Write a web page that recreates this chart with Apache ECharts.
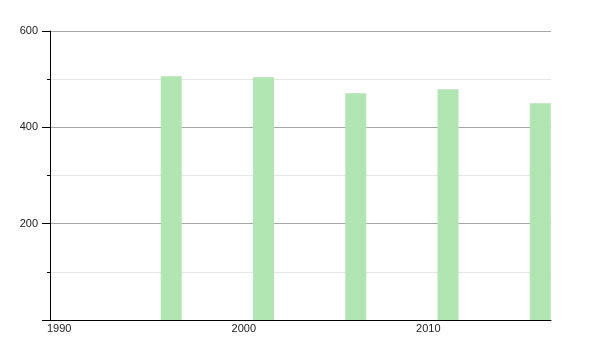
<!DOCTYPE html>
<html>
<head>
<meta charset="utf-8">
<script src="https://cdn.jsdelivr.net/npm/echarts@6/dist/echarts.min.js"></script>
<style>html,body{margin:0;padding:0;background:#fff}#c{width:600px;height:350px}</style>
</head>
<body>
<div id="c"></div>
<script>
const years = [1996, 2001, 2006, 2011, 2016];
const population = [506, 504, 471, 479, 450];
const xTicks = [1990, 2000, 2010];
const yTicks = [200, 400, 600];

const chart = echarts.init(document.getElementById('c'), null, {renderer: 'canvas'});
const data = years.map((y, i) => [y, population[i]]);
chart.setOption({
  animation: false,
  backgroundColor: '#ffffff',
  grid: {left: 50, top: 31, right: 49, bottom: 30, containLabel: false},
  xAxis: {
    type: 'value', min: 1990, max: 2017.15, interval: 10,
    axisLine: {show: true, onZero: false, lineStyle: {color: '#000', width: 1}},
    axisTick: {show: false},
    splitLine: {show: false},
    axisLabel: {
      color: '#222', fontFamily: 'Liberation Sans, Arial, sans-serif', fontSize: 11,
      align: 'left', margin: 3, padding: [0, 0, 0, -3],
      formatter: v => xTicks.indexOf(v) >= 0 ? String(v) : ''
    }
  },
  yAxis: {
    type: 'value', min: 0, max: 600, interval: 200,
    axisLine: {show: true, lineStyle: {color: '#000', width: 1}},
    axisTick: {show: true, length: 8, lineStyle: {color: '#000'}},
    minorTick: {show: true, splitNumber: 2, length: 3, lineStyle: {color: '#000'}},
    splitLine: {show: true, lineStyle: {color: '#a8a8a8', width: 1}},
    minorSplitLine: {show: true, lineStyle: {color: '#e6e6e6', width: 1}},
    axisLabel: {
      color: '#222', fontFamily: 'Liberation Sans, Arial, sans-serif', fontSize: 11,
      margin: 12, showMinLabel: false,
      formatter: v => yTicks.indexOf(v) >= 0 ? String(v) : ''
    }
  },
  series: [{
    type: 'custom',
    data: data,
    encode: {x: 0, y: 1},
    renderItem: function (params, api) {
      const top = api.coord([api.value(0), api.value(1)]);
      const base = api.coord([api.value(0), 0]);
      return {
        type: 'rect',
        shape: {x: top[0], y: top[1], width: 21, height: base[1] - top[1]},
        style: {fill: '#b1e5b1'}
      };
    }
  }]
});
</script>
</body>
</html>
